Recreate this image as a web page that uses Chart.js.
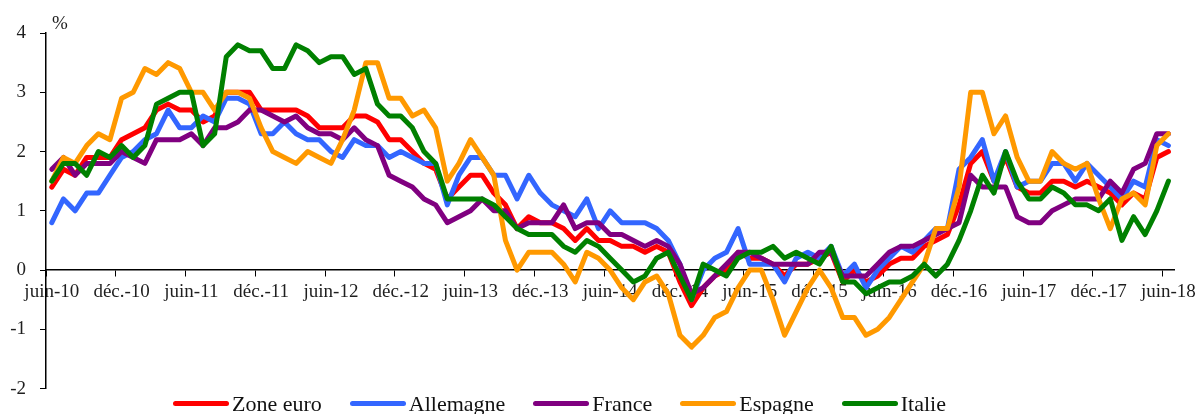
<!DOCTYPE html>
<html lang="fr">
<head>
<meta charset="utf-8">
<title>Inflation harmonisée, glissement annuel</title>
<script src="https://cdn.jsdelivr.net/npm/chart.js@4.4.1/dist/chart.umd.min.js"></script>
<style>
  html, body { margin: 0; padding: 0; background: #fff; }
  #wrap { position: relative; width: 1201px; height: 414px; overflow: hidden; }
  #chart { position: absolute; left: 0; top: 0; }
  #legend {
    position: absolute; left: 173px; top: 392px; height: 23px;
    display: flex; align-items: center; white-space: nowrap;
    font-family: 'Liberation Serif', 'Times New Roman', serif;
    font-size: 22px; color: #111;
  }
  #legend .item { display: flex; align-items: center; margin-right: 28px; }
  #legend .swatch { width: 56px; height: 5px; border-radius: 2.5px; margin-right: 3px; }
</style>
</head>
<body>
<div id="wrap">
  <canvas id="chart" width="1201" height="414"></canvas>
  <div id="legend"></div>
</div>
<script>
// Monthly categories, June 2010 to June 2018
const months = [
  'juin-10', 'juil.-10', 'août-10', 'sept.-10', 'oct.-10', 'nov.-10', 'déc.-10',
  'janv.-11', 'févr.-11', 'mars-11', 'avr.-11', 'mai-11', 'juin-11', 'juil.-11', 'août-11', 'sept.-11', 'oct.-11', 'nov.-11', 'déc.-11',
  'janv.-12', 'févr.-12', 'mars-12', 'avr.-12', 'mai-12', 'juin-12', 'juil.-12', 'août-12', 'sept.-12', 'oct.-12', 'nov.-12', 'déc.-12',
  'janv.-13', 'févr.-13', 'mars-13', 'avr.-13', 'mai-13', 'juin-13', 'juil.-13', 'août-13', 'sept.-13', 'oct.-13', 'nov.-13', 'déc.-13',
  'janv.-14', 'févr.-14', 'mars-14', 'avr.-14', 'mai-14', 'juin-14', 'juil.-14', 'août-14', 'sept.-14', 'oct.-14', 'nov.-14', 'déc.-14',
  'janv.-15', 'févr.-15', 'mars-15', 'avr.-15', 'mai-15', 'juin-15', 'juil.-15', 'août-15', 'sept.-15', 'oct.-15', 'nov.-15', 'déc.-15',
  'janv.-16', 'févr.-16', 'mars-16', 'avr.-16', 'mai-16', 'juin-16', 'juil.-16', 'août-16', 'sept.-16', 'oct.-16', 'nov.-16', 'déc.-16',
  'janv.-17', 'févr.-17', 'mars-17', 'avr.-17', 'mai-17', 'juin-17', 'juil.-17', 'août-17', 'sept.-17', 'oct.-17', 'nov.-17', 'déc.-17',
  'janv.-18', 'févr.-18', 'mars-18', 'avr.-18', 'mai-18', 'juin-18'
];

// Year-on-year inflation, %
const zoneEuro = [
  1.4, 1.7, 1.6, 1.9, 1.9, 1.9, 2.2, 2.3, 2.4, 2.7, 2.8, 2.7,
  2.7, 2.5, 2.6, 3.0, 3.0, 3.0, 2.7, 2.7, 2.7, 2.7, 2.6, 2.4,
  2.4, 2.4, 2.6, 2.6, 2.5, 2.2, 2.2, 2.0, 1.8, 1.7, 1.2, 1.4,
  1.6, 1.6, 1.3, 1.1, 0.7, 0.9, 0.8, 0.8, 0.7, 0.5, 0.7, 0.5,
  0.5, 0.4, 0.4, 0.3, 0.4, 0.3, -0.2, -0.6, -0.3, -0.1, 0.0, 0.3,
  0.2, 0.2, 0.1, -0.1, 0.1, 0.1, 0.2, 0.3, -0.2, 0.0, -0.2, -0.1,
  0.1, 0.2, 0.2, 0.4, 0.5, 0.6, 1.1, 1.8, 2.0, 1.5, 1.9, 1.4,
  1.3, 1.3, 1.5, 1.5, 1.4, 1.5, 1.4, 1.3, 1.1, 1.3, 1.2, 1.9, 2.0
];
const allemagne = [
  0.8, 1.2, 1.0, 1.3, 1.3, 1.6, 1.9, 2.0, 2.2, 2.3, 2.7, 2.4,
  2.4, 2.6, 2.5, 2.9, 2.9, 2.8, 2.3, 2.3, 2.5, 2.3, 2.2, 2.2,
  2.0, 1.9, 2.2, 2.1, 2.1, 1.9, 2.0, 1.9, 1.8, 1.8, 1.1, 1.6,
  1.9, 1.9, 1.6, 1.6, 1.2, 1.6, 1.3, 1.1, 1.0, 0.9, 1.2, 0.7,
  1.0, 0.8, 0.8, 0.8, 0.7, 0.5, 0.1, -0.5, 0.0, 0.2, 0.3, 0.7,
  0.1, 0.1, 0.1, -0.2, 0.2, 0.3, 0.2, 0.4, -0.1, 0.1, -0.3, 0.0,
  0.2, 0.4, 0.3, 0.5, 0.7, 0.7, 1.7, 1.9, 2.2, 1.5, 2.0, 1.4,
  1.5, 1.5, 1.8, 1.8, 1.5, 1.8, 1.6, 1.4, 1.2, 1.5, 1.4, 2.2, 2.1
];
const france = [
  1.7, 1.9, 1.6, 1.8, 1.8, 1.8, 2.0, 1.9, 1.8, 2.2, 2.2, 2.2,
  2.3, 2.1, 2.4, 2.4, 2.5, 2.7, 2.7, 2.6, 2.5, 2.6, 2.4, 2.3,
  2.3, 2.2, 2.4, 2.2, 2.1, 1.6, 1.5, 1.4, 1.2, 1.1, 0.8, 0.9,
  1.0, 1.2, 1.0, 1.0, 0.7, 0.8, 0.8, 0.8, 1.1, 0.7, 0.8, 0.8,
  0.6, 0.6, 0.5, 0.4, 0.5, 0.4, 0.1, -0.4, -0.3, -0.1, 0.1, 0.3,
  0.3, 0.2, 0.1, 0.1, 0.1, 0.1, 0.3, 0.3, -0.1, -0.1, -0.1, 0.1,
  0.3, 0.4, 0.4, 0.5, 0.6, 0.7, 0.8, 1.6, 1.4, 1.4, 1.4, 0.9,
  0.8, 0.8, 1.0, 1.1, 1.2, 1.2, 1.2, 1.5, 1.3, 1.7, 1.8, 2.3, 2.3
];
const espagne = [
  1.5, 1.9, 1.8, 2.1, 2.3, 2.2, 2.9, 3.0, 3.4, 3.3, 3.5, 3.4,
  3.0, 3.0, 2.7, 3.0, 3.0, 2.9, 2.4, 2.0, 1.9, 1.8, 2.0, 1.9,
  1.8, 2.2, 2.7, 3.5, 3.5, 2.9, 2.9, 2.6, 2.7, 2.4, 1.5, 1.8,
  2.2, 1.9, 1.6, 0.5, 0.0, 0.3, 0.3, 0.3, 0.1, -0.2, 0.3, 0.2,
  0.0, -0.3, -0.5, -0.2, -0.1, -0.4, -1.1, -1.3, -1.1, -0.8, -0.7, -0.3,
  0.0, 0.0, -0.5, -1.1, -0.7, -0.3, 0.0, -0.3, -0.8, -0.8, -1.1, -1.0,
  -0.8, -0.5, -0.2, 0.1, 0.7, 0.7, 1.4, 3.0, 3.0, 2.3, 2.6, 1.9,
  1.5, 1.5, 2.0, 1.8, 1.7, 1.8, 1.2, 0.7, 1.2, 1.3, 1.1, 2.1, 2.3
];
const italie = [
  1.5, 1.8, 1.8, 1.6, 2.0, 1.9, 2.1, 1.9, 2.1, 2.8, 2.9, 3.0,
  3.0, 2.1, 2.3, 3.6, 3.8, 3.7, 3.7, 3.4, 3.4, 3.8, 3.7, 3.5,
  3.6, 3.6, 3.3, 3.4, 2.8, 2.6, 2.6, 2.4, 2.0, 1.8, 1.2, 1.2,
  1.2, 1.2, 1.1, 0.9, 0.7, 0.6, 0.6, 0.6, 0.4, 0.3, 0.5, 0.4,
  0.2, 0.0, -0.2, -0.1, 0.2, 0.3, -0.1, -0.5, 0.1, 0.0, -0.1, 0.2,
  0.3, 0.3, 0.4, 0.2, 0.3, 0.2, 0.1, 0.4, -0.2, -0.2, -0.4, -0.3,
  -0.2, -0.2, -0.1, 0.1, -0.1, 0.1, 0.5, 1.0, 1.6, 1.3, 2.0, 1.5,
  1.2, 1.2, 1.4, 1.3, 1.1, 1.1, 1.0, 1.2, 0.5, 0.9, 0.6, 1.0, 1.5
];

const seriesNames = ['Zone euro', 'Allemagne', 'France', 'Espagne', 'Italie'];
const seriesValues = [zoneEuro, allemagne, france, espagne, italie];
const seriesColors = ['#FF0000', '#3366FF', '#800080', '#FF9900', '#008000'];

// Y axis bounds and step, in %
const yMin = -2, yMax = 4, yStep = 1;
// One labelled tick every six months
const labelEvery = 6;

const serif = "'Liberation Serif', 'Times New Roman', serif";
const textColor = '#1e1e1e';

// "%" unit written above the value axis
const unitLabel = {
  id: 'unitLabel',
  afterDraw(chart) {
    const { ctx, chartArea } = chart;
    ctx.save();
    ctx.font = '19px ' + serif;
    ctx.fillStyle = textColor;
    ctx.textAlign = 'left';
    ctx.textBaseline = 'middle';
    ctx.fillText('%', chartArea.left + 6, chartArea.top - 9);
    ctx.restore();
  }
};

const n = seriesNames.length;
const datasets = seriesNames.map((name, k) => ({
  label: name,
  data: seriesValues[k],
  borderColor: seriesColors[k],
  backgroundColor: seriesColors[k],
  borderWidth: 5,
  pointRadius: 0,
  tension: 0,
  fill: false,
  borderJoinStyle: 'round',
  borderCapStyle: 'round',
  order: n - 1 - k   // later series painted on top
}));

new Chart(document.getElementById('chart'), {
  type: 'line',
  data: { labels: months, datasets },
  options: {
    responsive: false,
    animation: false,
    events: [],
    layout: { padding: { top: 33, right: 25, bottom: 23, left: 0 } },
    plugins: { legend: { display: false }, tooltip: { enabled: false } },
    scales: {
      x: {
        type: 'category',
        position: { y: 0 },
        offset: true,
        grid: {
          offset: true,
          drawOnChartArea: false,
          drawTicks: true,
          tickLength: 6,
          lineWidth: 1,
          color: (c) => (c.index % labelEvery === 0 ? '#000' : 'rgba(0,0,0,0)')
        },
        border: { display: true, color: '#000', width: 1.5 },
        ticks: {
          autoSkip: false,
          maxRotation: 0,
          minRotation: 0,
          padding: 5,
          color: textColor,
          font: { family: serif, size: 19 },
          callback: function (value, index) {
            return index % labelEvery === 0 ? this.getLabelForValue(value) : '';
          }
        }
      },
      y: {
        min: yMin,
        max: yMax,
        afterFit(scale) { scale.width = 46; },
        grid: { drawOnChartArea: false, drawTicks: true, tickLength: 6, color: '#000', lineWidth: 1 },
        border: { display: true, color: '#000', width: 1.5 },
        ticks: {
          stepSize: yStep,
          padding: 14,
          color: textColor,
          font: { family: serif, size: 19 }
        }
      }
    }
  },
  plugins: [unitLabel]
});

// Legend row under the plot
const legend = document.getElementById('legend');
seriesNames.forEach((name, k) => {
  const item = document.createElement('span');
  item.className = 'item';
  const sw = document.createElement('span');
  sw.className = 'swatch';
  sw.style.background = seriesColors[k];
  const txt = document.createElement('span');
  txt.textContent = name;
  item.appendChild(sw);
  item.appendChild(txt);
  legend.appendChild(item);
});
</script>
</body>
</html>
